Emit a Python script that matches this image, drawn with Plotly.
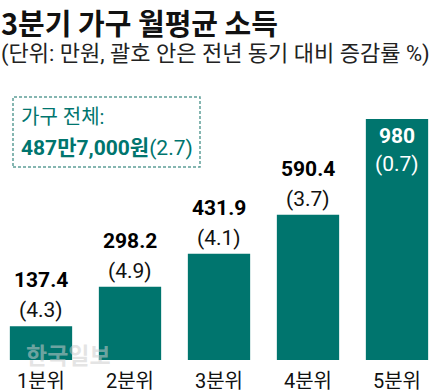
import plotly.graph_objects as go

categories = ["1분위", "2분위", "3분위", "4분위", "5분위"]
income = [137.4, 298.2, 431.9, 590.4, 980]
change = [4.3, 4.9, 4.1, 3.7, 0.7]
inside_label = [False, False, False, False, True]

title = "3분기 가구 월평균 소득"
subtitle = "(단위: 만원, 괄호 안은 전년 동기 대비 증감률 %)"
total_label = "가구 전체:"
total_value = "487만7,000원"
total_change = 2.7

W, H = 434, 392
PB = 360  # plot bottom pixel
TEAL = "#00756E"
FONT = "Roboto, 'Noto Sans CJK KR', sans-serif"
KFONT = "'Noto Sans CJK KR', sans-serif"

xs = list(range(len(categories)))
fig = go.Figure()
fig.add_trace(go.Bar(x=xs, y=income, marker=dict(color=TEAL, line=dict(width=0)),
                     width=0.70, hoverinfo="skip"))

def py(px):
    return (PB - px) / PB

ann = []
for i, (v, c, ins) in enumerate(zip(income, change, inside_label)):
    if ins:
        ann.append(dict(x=i, y=v, xref="x", yref="y", text=f"<b>{v:g}</b>", showarrow=False,
                        yanchor="top", yshift=-3, font=dict(family=FONT, size=21, color="white")))
        ann.append(dict(x=i, y=v, xref="x", yref="y", text=f"({c})", showarrow=False,
                        yanchor="top", yshift=-31, font=dict(family=FONT, size=21, color="white")))
    else:
        ann.append(dict(x=i, y=v, xref="x", yref="y", text=f"<b>{v:g}</b>", showarrow=False,
                        yanchor="bottom", yshift=32, font=dict(family=FONT, size=21, color="black")))
        ann.append(dict(x=i, y=v, xref="x", yref="y", text=f"({c})", showarrow=False,
                        yanchor="bottom", yshift=2, font=dict(family=FONT, size=21, color="#111")))

ann.append(dict(x=0, y=1, xref="paper", yref="paper", xanchor="left", yanchor="top",
                text=f"<b>{title}</b>", showarrow=False, yshift=0, borderpad=0,
                font=dict(family=KFONT, size=29, color="#111")))
ann.append(dict(x=0, y=py(40), xref="paper", yref="paper", xanchor="left", yanchor="top",
                text=subtitle, showarrow=False, borderpad=0,
                font=dict(family=FONT, size=22, color="#222")))
ann.append(dict(x=19 / W, y=py(117), xref="paper", yref="paper", xanchor="left", yanchor="middle",
                text=total_label, showarrow=False,
                font=dict(family=FONT, size=20, color=TEAL)))
ann.append(dict(x=19 / W, y=py(148), xref="paper", yref="paper", xanchor="left", yanchor="middle",
                text=f"<b>{total_value}</b>({total_change})", showarrow=False,
                font=dict(family=FONT, size=21, color=TEAL)))
ann.append(dict(x=68 / W, y=py(354), xref="paper", yref="paper", xanchor="center", yanchor="middle",
                text="<b>한국일보</b>", showarrow=False,
                font=dict(family=KFONT, size=23, color="rgba(205,205,205,0.55)")))

fig.add_shape(type="rect", xref="paper", yref="paper",
              x0=13 / W, x1=200 / W, y0=py(167), y1=py(97),
              line=dict(color="#5E9E98", width=1.5, dash="3px,2px"), fillcolor="rgba(0,0,0,0)")

scale = (PB - 119) / 980.0
fig.update_layout(
    width=W, height=H,
    margin=dict(l=0, r=0, t=0, b=H - PB, pad=0),
    paper_bgcolor="white", plot_bgcolor="white",
    showlegend=False,
    annotations=ann,
    xaxis=dict(range=[-41 / 89, (W - 41) / 89], tickvals=xs, ticktext=categories,
               showgrid=False, zeroline=False, showline=False, ticks="",
               ticklabelstandoff=7, automargin=False,
               tickfont=dict(family=FONT, size=20, color="#111")),
    yaxis=dict(range=[0, PB / scale], visible=False, showgrid=False, zeroline=False),
)

fig.write_html("out.html", config={"displayModeBar": False},
               post_script="document.body.style.margin='0';document.body.style.padding='0';")
